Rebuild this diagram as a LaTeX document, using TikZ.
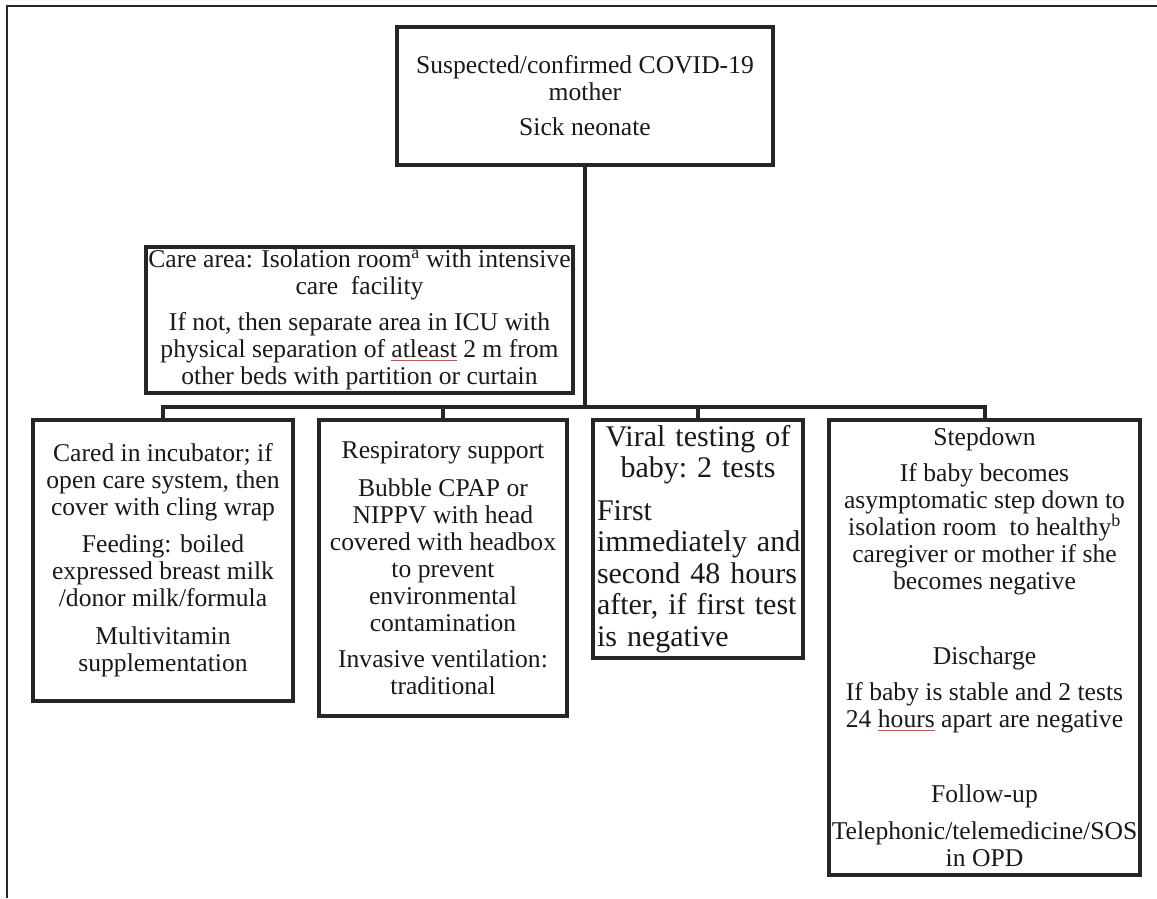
\documentclass[tikz,border=0pt]{standalone}
\usepackage{fontspec}
\setmainfont{Liberation Serif}
\newlength\spellw
\newcommand\spellmark[1]{\settowidth\spellw{#1}\rlap{\textcolor{red!75}{\rule[-3.5pt]{\spellw}{0.9pt}}}#1}
\newcommand\mainsz{\fontsize{25.6pt}{27pt}\selectfont}
\newcommand\viralsz{\fontsize{30pt}{31.5pt}\selectfont\frenchspacing}
\begin{document}
\begin{tikzpicture}[x=1pt,y=1pt,
  box/.style={draw=black!85, line width=4pt, rectangle, inner sep=0pt, align=center, font=\mainsz, text=black!90},
  conn/.style={draw=black!85, line width=4pt},
  frame/.style={draw=black!85, line width=2pt}]
\path[use as bounding box] (0,0) rectangle (1157,898);
\fill[white] (0,0) rectangle (1157,898);
\draw[frame] (7,0) -- (7,892) -- (1157,892);

\node[box, minimum width=376pt, minimum height=138pt] (top) at (585,802)
  {Suspected/confirmed COVID-19\\ mother\\[8pt] Sick neonate};

\node[box, minimum width=427pt, minimum height=146pt] (care) at (359.5,578)
  {Care area: Isolation room\textsuperscript{a} with intensive\\
   care\ \ facility\\[9pt]
   If not, then separate area in ICU with\\
   physical separation of \spellmark{atleast} 2 m from\\
   other beds with partition or curtain};

\node[box, minimum width=260pt, minimum height=281pt] (b1) at (163,337.5)
  {Cared in incubator; if\\ open care system, then\\ cover with cling wrap\\[10pt]
   Feeding: boiled\\ expressed breast milk\\ /donor milk/formula\\[11pt]
   Multivitamin\\ supplementation};

\node[box, minimum width=248pt, minimum height=296pt] (b2) at (443,330)
  {Respiratory support\\[11pt]
   Bubble CPAP or\\ NIPPV with head\\ covered with headbox\\ to prevent\\ environmental\\ contamination\\[9pt]
   Invasive ventilation:\\ traditional};

\node[box, align=left, text width=202pt, font=\viralsz, minimum width=210pt, minimum height=238pt] (b3) at (698,359)
  {\makebox[\linewidth][c]{Viral testing of}\\
   \makebox[\linewidth][c]{baby: 2 tests}\\[11pt]
   First\\
   \makebox[\linewidth][s]{immediately and}\\
   second 48 hours\\
   after, if first test\\
   is negative};

\node[box, minimum width=311pt, minimum height=455pt] (b4) at (984.5,250.5)
  {Stepdown\\[9pt]
   If baby becomes\\ asymptomatic step down to\\ isolation room\ \ to healthy\textsuperscript{b}\\ caregiver or mother if she\\ becomes negative\\[48pt]
   Discharge\\[9pt]
   If baby is stable and 2 tests\\ 24 \spellmark{hours} apart are negative\\[48pt]
   Follow-up\\[10pt]
   Telephonic/telemedicine/SOS\\ in OPD};

\coordinate (bus) at (585,491);
\draw[conn] (top.south) -- (bus);
\draw[conn] (b1.north) -- (b1.north |- bus) -- (b4.north |- bus) -- (b4.north);
\draw[conn] (b2.north) -- (b2.north |- bus);
\draw[conn] (b3.north) -- (b3.north |- bus);
\end{tikzpicture}
\end{document}
